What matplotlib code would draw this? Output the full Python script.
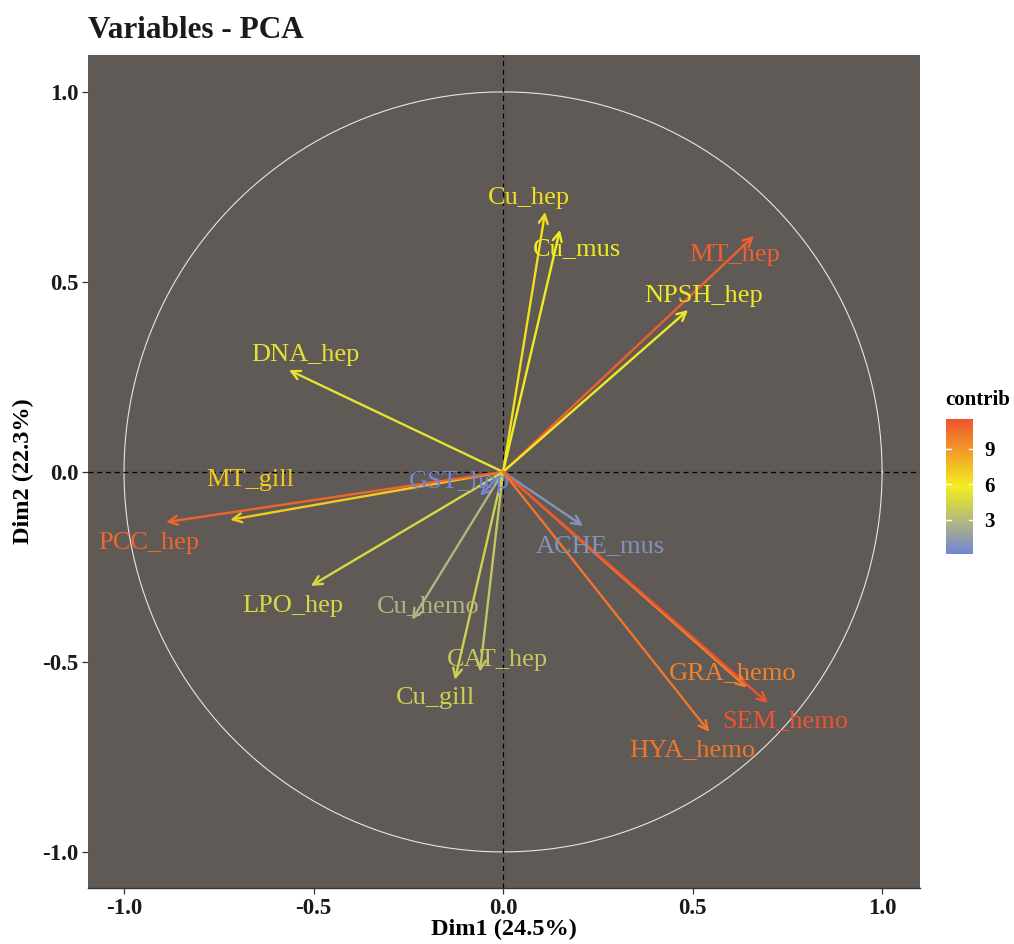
import numpy as np
import matplotlib
matplotlib.use("Agg")
import matplotlib.pyplot as plt
from matplotlib.colors import LinearSegmentedColormap, Normalize
from matplotlib.cm import ScalarMappable

# variable coordinates on Dim1 / Dim2
variables = ["Cu_hep", "Cu_mus", "MT_hep", "NPSH_hep", "DNA_hep", "MT_gill",
             "PCC_hep", "GST_hep", "ACHE_mus", "LPO_hep", "Cu_hemo", "CAT_hep",
             "Cu_gill", "GRA_hemo", "SEM_hemo", "HYA_hemo"]
dim1 = [0.111, 0.150, 0.662, 0.488, -0.565, -0.720, -0.889, -0.061, 0.211,
        -0.507, -0.240, -0.061, -0.127, 0.644, 0.699, 0.544]
dim2 = [0.684, 0.637, 0.621, 0.426, 0.268, -0.126, -0.132, -0.063, -0.142,
        -0.300, -0.389, -0.526, -0.547, -0.568, -0.608, -0.684]
contrib = [6.4, 5.7, 11.0, 5.6, 5.2, 7.1, 10.8, 0.1, 0.9, 4.6, 2.8, 3.7,
           4.2, 9.8, 11.5, 10.2]

# label positions (repelled text)
label_x = [0.069, 0.195, 0.612, 0.528, -0.522, -0.668, -0.934, -0.116, 0.256,
           -0.554, -0.198, -0.016, -0.177, 0.607, 0.744, 0.499]
label_y = [0.721, 0.587, 0.571, 0.463, 0.308, -0.021, -0.187, -0.026, -0.195,
           -0.353, -0.353, -0.495, -0.595, -0.529, -0.655, -0.732]

ticks = [-1.0, -0.5, 0.0, 0.5, 1.0]
serif = "Liberation Serif"

cmap = LinearSegmentedColormap.from_list(
    "contrib", ["#7285D6", "#F3EE1E", "#F0532F"])
norm = Normalize(vmin=min(contrib), vmax=max(contrib))

fig = plt.figure(figsize=(10.14, 9.44), dpi=100)
ax = fig.add_axes([0.0868, 0.0593, 0.8205, 0.8824])
ax.set_facecolor("#5F5A55")

# correlation circle
t = np.linspace(0, 2 * np.pi, 400)
ax.plot(np.cos(t), np.sin(t), color="#E8E6E2", lw=0.8, zorder=1)
ax.axhline(0, color="black", lw=0.9, ls=(0, (4, 3)), zorder=1)
ax.axvline(0, color="black", lw=0.9, ls=(0, (4, 3)), zorder=1)

for name, x, y, c, lx, ly in zip(variables, dim1, dim2, contrib, label_x, label_y):
    col = cmap(norm(c))
    ax.annotate("", xy=(x, y), xytext=(0, 0),
                arrowprops=dict(arrowstyle="->", color=col, lw=1.7,
                                shrinkA=0, shrinkB=0, mutation_scale=16),
                zorder=3)
    ax.text(lx, ly, name, color=col, fontsize=19, family=serif,
            ha="center", va="center", zorder=4)

ax.set_xlim(-1.095, 1.100)
ax.set_ylim(-1.095, 1.097)
ax.set_xticks(ticks)
ax.set_yticks(ticks)
ax.set_xticklabels([f"{v:.1f}" for v in ticks])
ax.set_yticklabels([f"{v:.1f}" for v in ticks])
for lab in ax.get_xticklabels() + ax.get_yticklabels():
    lab.set_family(serif)
    lab.set_fontweight("bold")
    lab.set_fontsize(16.5)
    lab.set_color("#1A1A1A")
ax.tick_params(length=4, width=0.9, color="#333333", pad=3)
for s in ["top", "right", "left"]:
    ax.spines[s].set_visible(False)
ax.spines["bottom"].set_color("#3A3633")
ax.spines["bottom"].set_linewidth(1.0)

ax.set_xlabel("Dim1 (24.5%)", family=serif, fontweight="bold", fontsize=17.5,
              labelpad=0)
ax.set_ylabel("Dim2 (22.3%)", family=serif, fontweight="bold", fontsize=17.5,
              labelpad=6)
fig.text(0.0868, 0.968, "Variables - PCA", family=serif, fontweight="bold",
         fontsize=22.5, ha="left", va="center", color="#1A1A1A")

# colour bar legend
cax = fig.add_axes([0.933, 0.413, 0.027, 0.143])
sm = ScalarMappable(norm=norm, cmap=cmap)
cb = fig.colorbar(sm, cax=cax, ticks=[3, 6, 9])
cb.outline.set_visible(False)
cax.tick_params(length=0, pad=8)
for lab in cax.get_yticklabels():
    lab.set_family(serif)
    lab.set_fontweight("bold")
    lab.set_fontsize(15)
for v in [3, 6, 9]:
    cax.plot([0, 0.18], [v, v], color="white", lw=1.0, transform=cax.get_yaxis_transform())
    cax.plot([0.82, 1.0], [v, v], color="white", lw=1.0, transform=cax.get_yaxis_transform())
fig.text(0.932, 0.576, "contrib", family=serif, fontweight="bold", fontsize=15,
         ha="left", va="center")

fig.savefig("out.png", dpi=100, facecolor="white")
